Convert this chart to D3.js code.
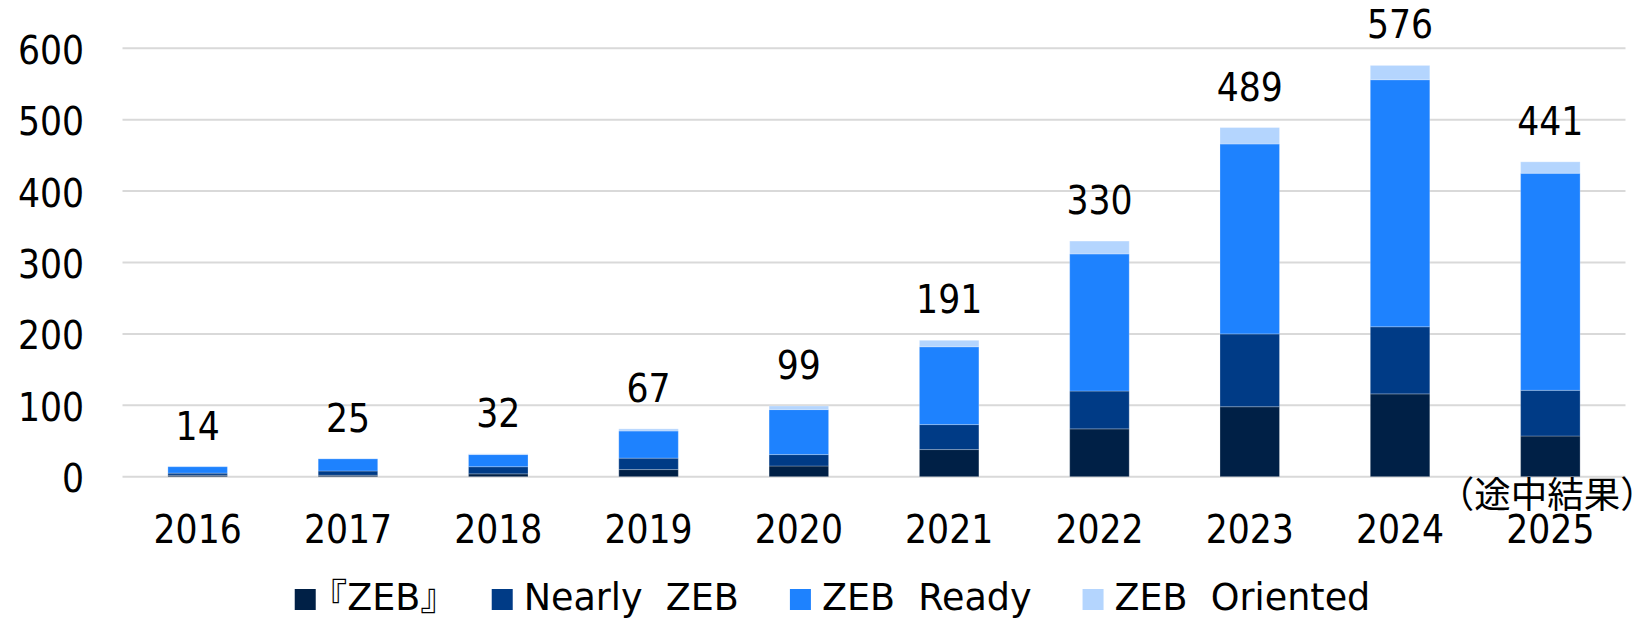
<!DOCTYPE html>
<meta charset="utf-8">
<style>
    html, body { margin: 0; background: #fff; }
    .num { font-family: "DejaVu Sans Condensed", "DejaVu Sans", sans-serif; font-stretch: condensed; font-size: 38.5px; fill: #000; }
    .legend text { font-family: "DejaVu Sans", "Noto Sans CJK JP", sans-serif; font-size: 36.5px; fill: #000; white-space: pre; }
    .note { font-family: "Noto Sans CJK JP", sans-serif; font-size: 36.5px; fill: #000; }
    .grid line { stroke: #d9d9d9; stroke-width: 2px; }
</style>
<svg width="1641" height="619"></svg>
<script src="https://d3js.org/d3.v7.min.js"></script>
<script>
    var years = ["2016", "2017", "2018", "2019", "2020", "2021", "2022", "2023", "2024", "2025"];
    var zeb      = [2, 2, 4, 10, 15, 38, 67, 98, 116, 57];
    var nearly   = [3, 6, 10, 16, 16, 35, 53, 102, 94, 64];
    var ready    = [9, 17, 17, 38, 63, 109, 192, 266, 346, 304];
    var oriented = [0, 0, 1, 3, 5, 9, 18, 23, 20, 16];
    var totals   = [14, 25, 32, 67, 99, 191, 330, 489, 576, 441];
    var yTicks   = [0, 100, 200, 300, 400, 500, 600];
    var seriesNames = ["『ZEB』", "Nearly  ZEB", "ZEB  Ready", "ZEB  Oriented"];
    var colors = ["#002046", "#003b86", "#1e82fe", "#b4d5fe"];

    var svg = d3.select("svg");

    var x = d3.scaleBand()
        .domain(years)
        .range([122.5, 1625.5])
        .paddingInner(0.604)
        .paddingOuter(0.302);
    var y = d3.scaleLinear()
        .domain([0, 600])
        .range([476.7, 48.3]);

    // gridlines
    svg.append("g")
        .attr("class", "grid")
        .selectAll("line")
        .data(yTicks)
        .enter().append("line")
        .attr("x1", 122.5)
        .attr("x2", 1625.5)
        .attr("y1", function (d) { return y(d); })
        .attr("y2", function (d) { return y(d); });

    // y axis labels
    var yAxis = svg.append("g")
        .attr("transform", "translate(84,0)")
        .call(d3.axisLeft(y).tickValues(yTicks).tickSize(0).tickPadding(0));
    yAxis.select(".domain").remove();
    yAxis.selectAll("text")
        .attr("class", "num")
        .attr("font-family", null)
        .attr("font-size", null)
        .attr("dy", "0.39em");

    // x axis labels
    var xAxis = svg.append("g")
        .attr("transform", "translate(0,543)")
        .call(d3.axisBottom(x).tickSize(0).tickPadding(0));
    xAxis.select(".domain").remove();
    xAxis.selectAll("text")
        .attr("class", "num")
        .attr("font-family", null)
        .attr("font-size", null)
        .attr("dy", 0);

    var rows = years.map(function (yr, i) {
        return { year: yr, s0: zeb[i], s1: nearly[i], s2: ready[i], s3: oriented[i] };
    });
    var stack = d3.stack().keys(["s0", "s1", "s2", "s3"]);
    var layers = stack(rows);

    svg.append("g")
        .selectAll("g")
        .data(layers)
        .enter().append("g")
        .attr("fill", function (d, i) { return colors[i]; })
        .selectAll("rect")
        .data(function (d) { return d; })
        .enter().append("rect")
        .attr("x", function (d) { return x(d.data.year); })
        .attr("width", x.bandwidth())
        .attr("y", function (d) { return y(d[1]); })
        .attr("height", function (d) { return y(d[0]) - y(d[1]); })
        .attr("stroke", "rgba(255,255,255,0.25)")
        .attr("stroke-width", 1);

    // totals
    svg.append("g")
        .selectAll("text")
        .data(totals)
        .enter().append("text")
        .attr("class", "num")
        .attr("text-anchor", "middle")
        .attr("x", function (d, i) { return x(years[i]) + x.bandwidth() / 2; })
        .attr("y", function (d) { return y(d) - 27; })
        .text(function (d) { return d; });

    svg.append("text")
        .attr("class", "note")
        .attr("text-anchor", "middle")
        .attr("x", x("2025") + x.bandwidth() / 2 - 3)
        .attr("y", 508)
        .text("（途中結果）");

    // legend
    var legend = svg.append("g").attr("class", "legend");
    var items = legend.selectAll("g")
        .data(seriesNames)
        .enter().append("g");
    items.append("rect")
        .attr("width", 21)
        .attr("height", 21)
        .attr("y", 589)
        .attr("fill", function (d, i) { return colors[i]; });
    var labels = items.append("text")
        .attr("x", 32)
        .attr("y", 610);
    // full-width brackets carry half an em of blank space; pull them in
    var trim = [];
    labels.each(function (d) {
        var t = d3.select(this);
        if (d.charAt(0) === "『") {
            t.append("tspan").attr("dx", "-0.44em").text("『");
            t.append("tspan").text(d.slice(1, -1));
            t.append("tspan").text("』");
            trim.push(0.88 * 36.5);
        } else {
            t.text(d);
            trim.push(0);
        }
    });

    var offset = 0, widths = [];
    labels.each(function (d, i) {
        widths.push(32 + this.getComputedTextLength() - trim[i]);
    });
    var total = d3.sum(widths) + 51 * (widths.length - 1);
    var start = 832.5 - total / 2;
    items.attr("transform", function (d, i) {
        var tx = start + offset;
        offset += widths[i] + 51;
        return "translate(" + tx + ",0)";
    });
</script>
